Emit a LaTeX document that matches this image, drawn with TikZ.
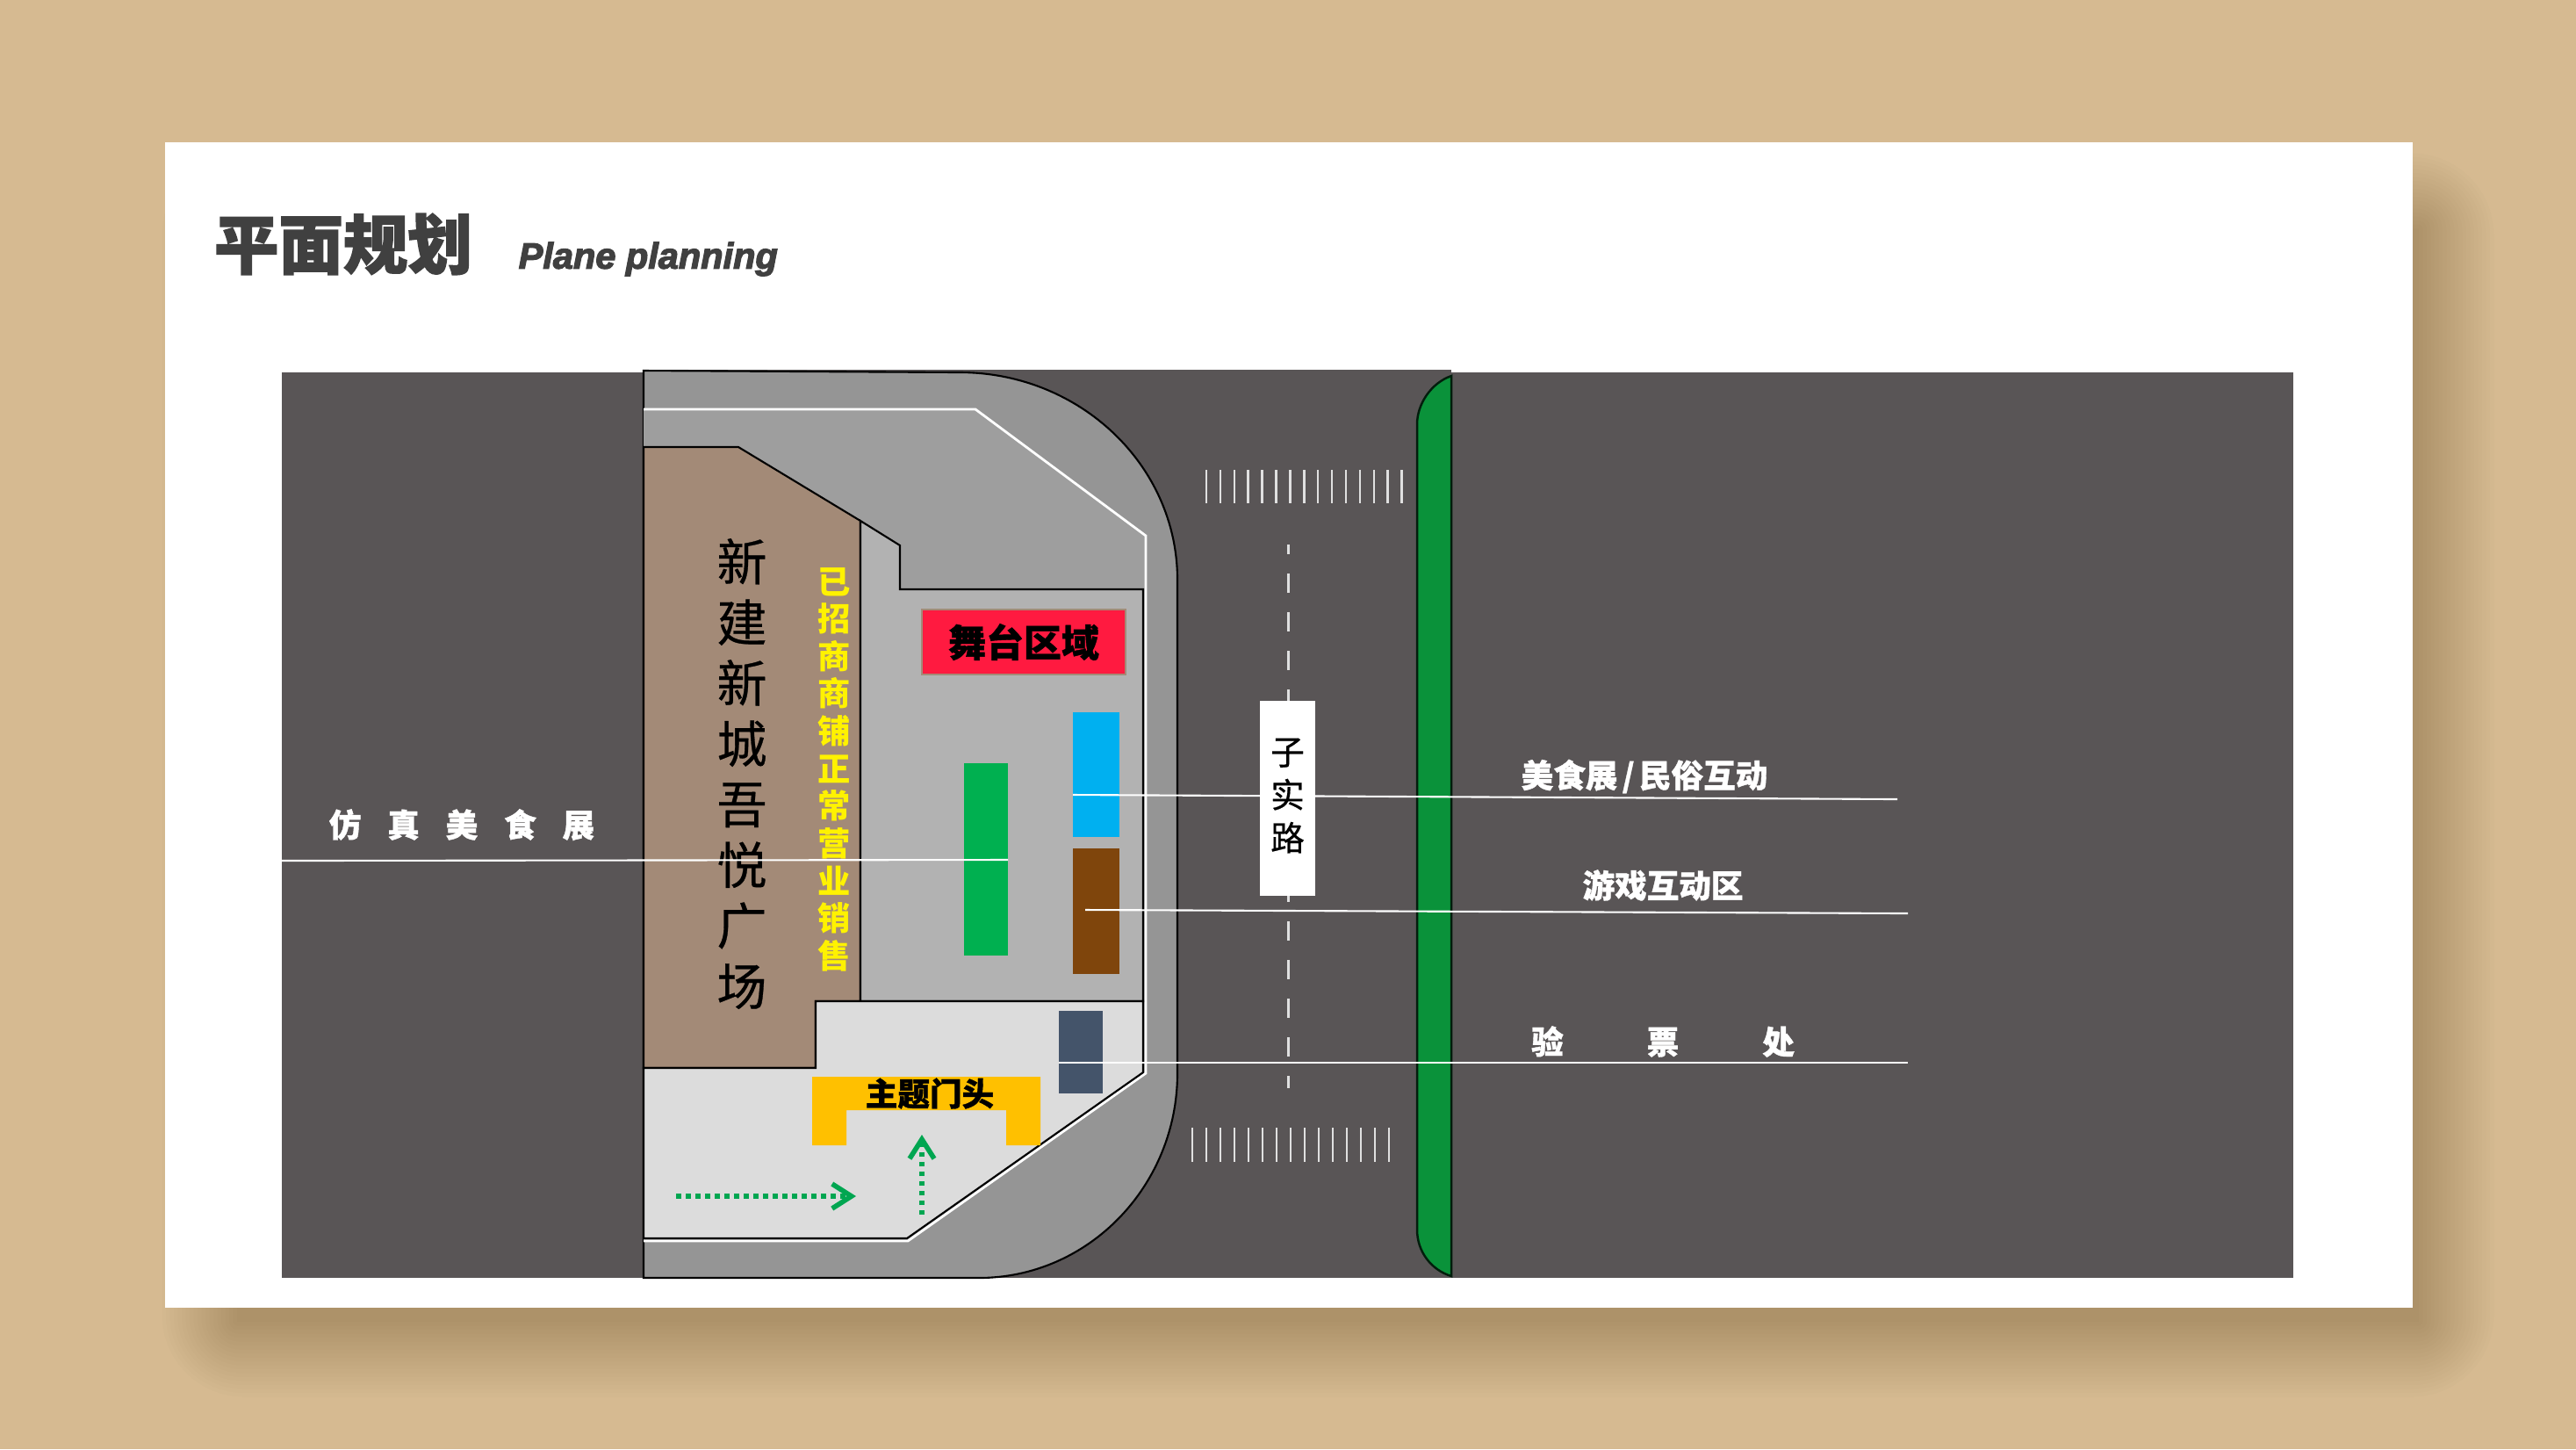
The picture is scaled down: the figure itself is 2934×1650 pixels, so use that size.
\documentclass[tikz,border=0pt]{standalone}
\usepackage{fontspec}
\setmainfont{Noto Sans CJK SC}
\newfontfamily\cjkheavy[BoldFeatures={FakeBold=2}]{Noto Sans CJK SC}
\newfontfamily\cjkstrong[BoldFeatures={FakeBold=1}]{Noto Sans CJK SC}
\newfontfamily\cjkplain[FakeBold=0.5]{Noto Sans CJK SC}
\newfontfamily\latinheavy[BoldItalicFont=* Bold Italic, BoldItalicFeatures={FakeBold=3}]{Liberation Sans}
\usepackage{tikz}
\usetikzlibrary{positioning,arrows.meta}
\definecolor{sand}{HTML}{D6BA91}
\definecolor{asphalt}{HTML}{595556}
\definecolor{kerb}{HTML}{959595}
\definecolor{forecourt}{HTML}{9E9E9E}
\definecolor{mallbrown}{HTML}{A38A77}
\definecolor{plaza}{HTML}{B2B2B2}
\definecolor{entry}{HTML}{DCDCDC}
\definecolor{stagered}{HTML}{FF1A40}
\definecolor{stripgreen}{HTML}{0A923A}
\definecolor{headgray}{HTML}{404040}
\definecolor{foodblue}{HTML}{00B0F0}
\definecolor{copygreen}{HTML}{00B050}
\definecolor{gamebrown}{HTML}{7F450C}
\definecolor{ticketnavy}{HTML}{44546A}
\definecolor{gateyellow}{HTML}{FFC000}
\definecolor{walkgreen}{HTML}{00A651}
\definecolor{sheetshade}{HTML}{2A1505}
\tikzstyle{block} = [rectangle, inner sep=0pt, outer sep=0pt]
\tikzstyle{edge} = [draw=black, line width=0.6pt]
\tikzstyle{leader} = [draw=white, line width=0.6pt]
\tikzstyle{stripe} = [draw=white!88!black, line width=0.7pt]
\tikzstyle{flow} = [draw=walkgreen, line width=1.6pt, dash pattern=on 0.055cm off 0.055cm, -{Straight Barb[length=0.22cm,width=0.28cm]}]
\tikzstyle{roadtext} = [text=white, font=\cjkstrong\bfseries\fontsize{10.4pt}{12pt}\selectfont, inner sep=0pt]

\begin{document}
\begin{tikzpicture}[x=0.01cm,y=-0.01cm]
\useasboundingbox (0,0) rectangle (2934,1650);
\fill [sand] (0,0) rectangle (2934,1650);
% shadow of the sheet
\foreach \i in {0,...,19}
	\fill [sheetshade, opacity=0.0125, rounded corners=\i*1.4pt] (270-4.5*\i,260-4.5*\i) rectangle (2755+4.5*\i,1505+4.5*\i);
\node(sheet) [block, fill=white, anchor=north west, minimum width=25.58cm, minimum height=13.26cm] at (188,162) {};

\node(title) [inner sep=0pt, text=headgray, font=\cjkheavy\bfseries\fontsize{20.9pt}{24pt}\selectfont] at (391,278) {平面规划};
\node(subtitle) [inner sep=0pt, text=headgray, anchor=west, font=\latinheavy\bfseries\itshape\fontsize{11.8pt}{14pt}\selectfont] at (590,295) {Plane planning};

% roads
\fill [asphalt] (321,424) rectangle (2612,1455);
\fill [asphalt] (733,421) rectangle (1653,1455);

% corner of the site
\draw [edge, fill=kerb] (733,422) -- (1093,424) .. controls (1230,424) and (1341,530) .. (1341,660) -- (1341,1222) .. controls (1341,1350) and (1240,1455) .. (1115,1455) -- (733,1455) -- cycle;
\draw [leader, fill=forecourt, line width=0.8pt] (733,466) -- (1111,466) -- (1305,610) -- (1305,1222) -- (1034,1413) -- (733,1413);
\draw [edge, fill=mallbrown] (733,509) -- (841,509) -- (980,593) -- (980,1140) -- (929,1140) -- (929,1216) -- (733,1216) -- cycle;
\draw [edge, fill=plaza] (980,593) -- (1025,621) -- (1025,671) -- (1302,671) -- (1302,1140) -- (980,1140) -- cycle;
\draw [edge, fill=entry] (733,1216) -- (929,1216) -- (929,1140) -- (1302,1140) -- (1302,1221) -- (1033,1410) -- (733,1410) -- cycle;

\node(stage) [block, draw=mallbrown, line width=0.7pt, fill=stagered, minimum width=2.32cm, minimum height=0.74cm, font=\cjkstrong\bfseries\fontsize{12.2pt}{14pt}\selectfont] at (1166,731) {舞台区域};
\node(foodstalls) [block, fill=foodblue, minimum width=0.53cm, minimum height=1.42cm] at (1248.5,882) {};
\node(replica) [block, fill=copygreen, minimum width=0.5cm, minimum height=2.19cm] at (1123,978.5) {};
\node(games) [block, fill=gamebrown, minimum width=0.53cm, minimum height=1.43cm] at (1248.5,1037.5) {};
\node(tickets) [block, fill=ticketnavy, minimum width=0.5cm, minimum height=0.94cm] at (1231,1198) {};

% gate
\fill [gateyellow] (925,1226) -- (1185,1226) -- (1185,1304) -- (1146,1304) -- (1146,1264) -- (964,1264) -- (964,1304) -- (925,1304) -- cycle;
\node(gate) [inner sep=0pt, font=\cjkstrong\bfseries\fontsize{10.4pt}{12pt}\selectfont] at (1059,1245) {主题门头};

\node(mall) [inner sep=0pt, align=center, font=\cjkplain\fontsize{16.2pt}{19.63pt}\selectfont] at (845,881) {新\\建\\新\\城\\吾\\悦\\广\\场};
\node(shops) [inner sep=0pt, align=center, text=yellow, font=\bfseries\fontsize{10.6pt}{12.12pt}\selectfont] at (950,876) {已\\招\\商\\商\\铺\\正\\常\\营\\业\\销\\售};

% way in
\coordinate (walk1) at (770,1362);
\coordinate (walk2) at (975,1362);
\coordinate (walk3) at (1050,1383);
\coordinate (walk4) at (1050,1292);
\draw [flow] (walk1) -- (walk2);
\draw [flow] (walk3) -- (walk4);

% green strip
\draw [draw=black!80!stripgreen, line width=0.7pt, fill=stripgreen] (1653,428) .. controls (1630,436) and (1614,460) .. (1614,483) -- (1614,1400) .. controls (1614,1425) and (1630,1446) .. (1653,1453) -- cycle;

% road markings
\foreach \i in {0,...,14}
	\draw [stripe] ({1374+\i*15.9},535) -- ({1374+\i*15.9},573);
\foreach \i in {0,...,14}
	\draw [stripe, line width=0.55pt] ({1358+\i*16},1284) -- ({1358+\i*16},1323);
\draw [stripe, line width=0.85pt, dash pattern=on 0.22cm off 0.22cm, dash phase=0.11cm] (1467,620) -- (1467,1239);

% leaders
\coordinate (food1) at (2161,910);
\coordinate (game1) at (1236,1036);
\coordinate (game2) at (2173,1040);
\coordinate (tick1) at (1206,1210);
\coordinate (tick2) at (2173,1210);
\coordinate (copy1) at (321,980);
\coordinate (copy2) at (1148,979);
\coordinate (food0) at (1222,905);
\draw [leader] (copy1) -- (copy2);
\draw [leader] (food0) -- (food1);
\draw [leader] (game1) -- (game2);
\draw [leader] (tick1) -- (tick2);

\node(roadsign) [block, fill=white, minimum width=0.63cm, minimum height=2.22cm] at (1466.5,909) {};
\node(roadname) [inner sep=0pt, align=center, font=\cjkplain\fontsize{11pt}{13.9pt}\selectfont] at (1466.5,906) {子\\实\\路};

\node(copylabel) [roadtext] at (526,939) {仿\hspace{8.5pt}真\hspace{8.5pt}美\hspace{8.5pt}食\hspace{8.5pt}展};
\node(foodlabel) [roadtext] at (1873,884) {美食展\hspace{1.5pt}/\hspace{1.5pt}民俗互动};
\node(gamelabel) [roadtext] at (1894,1008) {游戏互动区};
\node(ticklabel) [roadtext] at (1894,1186) {验\hspace{27pt}票\hspace{27pt}处};
\end{tikzpicture}
\end{document}
